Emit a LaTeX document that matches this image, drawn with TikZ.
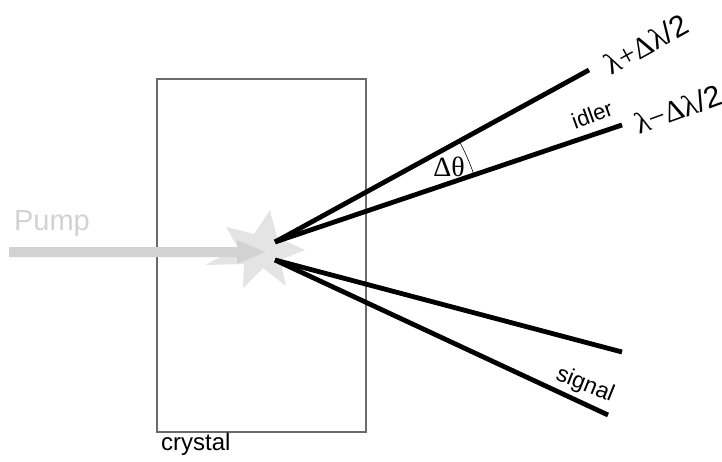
\documentclass[tikz,border=0pt]{standalone}
\usepackage{fontspec}
\setmainfont{Liberation Sans}
\newfontfamily\greekfont{Liberation Serif}
\usetikzlibrary{calc}
\definecolor{pumpgray}{HTML}{D2D2D2}
\definecolor{stargray}{HTML}{E4E4E5}
\definecolor{boxgray}{HTML}{6A6A6A}
\tikzset{
  beam/.style={line width=4.8pt, black},
  label/.style={inner sep=0pt, font=\fontsize{22}{24}\selectfont},
  greek/.style={inner sep=0pt, font=\fontsize{30}{34}\selectfont\greekfont},
}
\begin{document}
\begin{tikzpicture}[x=1pt, y=-1pt]
  \useasboundingbox (0,0) rectangle (722,462);

  % crystal
  \draw[boxgray, line width=1.3pt] (157,79) rectangle (366,432);
  \node[label, anchor=north west, font=\fontsize{24}{26}\selectfont] (crystal) at (161,433) {crystal};

  % flash at the interaction point
  \fill[stargray] (270,210) -- (277,237) -- (305,250) -- (280,260) -- (286,286)
    -- (263,268) -- (243,288) -- (244,264) -- (205,265) -- (238,248) -- (226,227)
    -- (254,234) -- cycle;

  % pump beam
  \fill[pumpgray] (9,247) -- (237,247) -- (237,240) -- (265,252) -- (237,264)
    -- (237,257) -- (9,257) -- cycle;
  \node[inner sep=0pt, text=pumpgray, font=\fontsize{29}{31}\selectfont] (pump) at (52,224) {Pump};

  % down-converted beams
  \coordinate (O1) at (275,242);
  \coordinate (O2) at (275,260);
  \coordinate (up) at (589,70);
  \coordinate (idl) at (622,125);
  \coordinate (s1) at (622,352);
  \coordinate (s2) at (608,415);
  \draw[beam] (O1) -- (up);
  \draw[beam] (O1) -- (idl);
  \draw[beam] (O2) -- (s1);
  \draw[beam] (O2) -- (s2);

  % opening angle
  \coordinate (a0) at ($(O1)!210pt!(idl)$);
  \draw[line width=0.6pt] (a0) arc[start angle=-18.6, end angle=-28.9, radius=210];
  \node[greek, font=\fontsize{28}{30}\selectfont\greekfont] (dth) at (449,167) {Δθ};

  % labels
  \node[greek, rotate=29] (lp) at (646,44) {λ+Δλ{\fontspec{Liberation Sans}/2}};
  \node[greek, rotate=20] (lm) at (678,109) {λ−Δλ{\fontspec{Liberation Sans}/2}};
  \node[label, rotate=20] (idler) at (592,115) {idler};
  \node[label, rotate=-22, font=\fontsize{23}{25}\selectfont] (signal) at (585,385) {signal};
\end{tikzpicture}
\end{document}
